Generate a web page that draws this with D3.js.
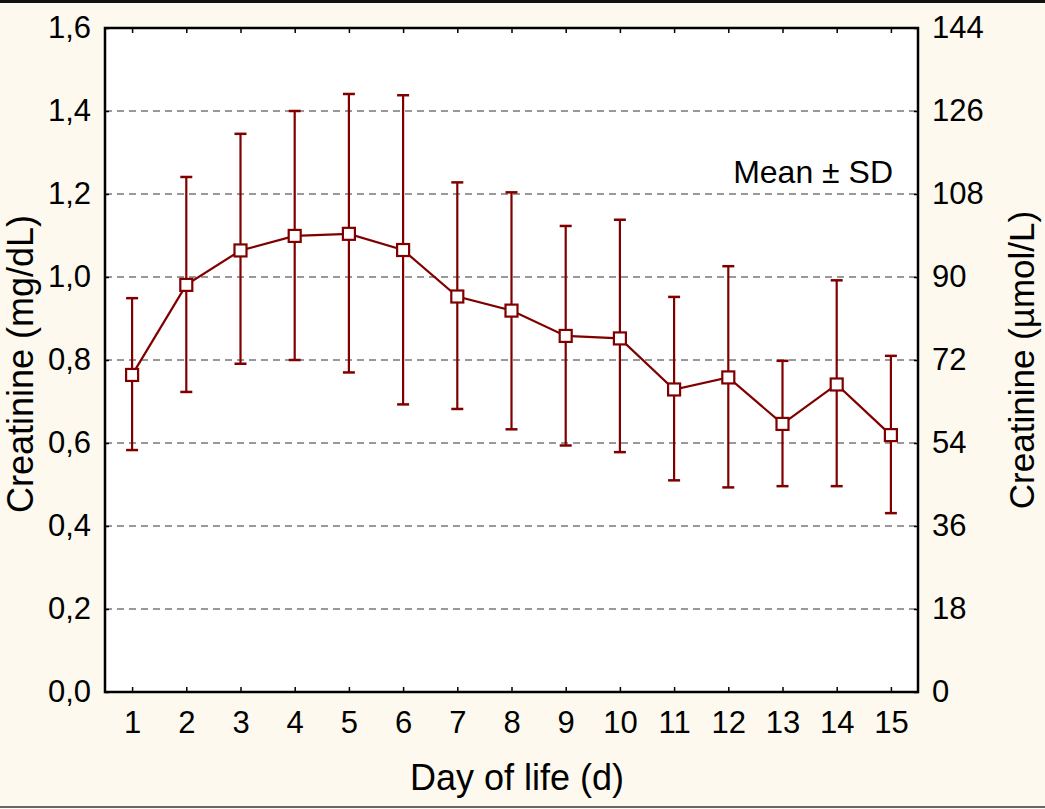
<!DOCTYPE html>
<html>
<head>
<meta charset="utf-8">
<script src="https://cdn.jsdelivr.net/npm/d3@7"></script>
<style>
  body { margin: 0; background: #fdf9ee; }
  svg { display: block; font-family: "Liberation Sans", Arial, sans-serif; }
</style>
</head>
<body>
<div class="chart"></div>
<script>
// data (mg/dL)
var days   = [1, 2, 3, 4, 5, 6, 7, 8, 9, 10, 11, 12, 13, 14, 15];
var means  = [0.764, 0.981, 1.064, 1.099, 1.104, 1.065, 0.953, 0.919, 0.858, 0.852, 0.729, 0.758, 0.646, 0.741, 0.619];
var upper  = [0.949, 1.241, 1.345, 1.400, 1.441, 1.438, 1.228, 1.204, 1.123, 1.138, 0.952, 1.026, 0.798, 0.992, 0.810];
var lower  = [0.583, 0.723, 0.791, 0.800, 0.770, 0.693, 0.682, 0.633, 0.594, 0.578, 0.510, 0.493, 0.496, 0.496, 0.431];
var leftTicks  = [0, 0.2, 0.4, 0.6, 0.8, 1.0, 1.2, 1.4, 1.6];
var rightTicks = [0, 18, 36, 54, 72, 90, 108, 126, 144];

var svgWidth = 1045, svgHeight = 809;
var margin = { top: 28, right: 127, bottom: 117, left: 105 };
var width = svgWidth - margin.left - margin.right;
var height = svgHeight - margin.top - margin.bottom;
var red = "#800000";

var svg = d3.select(".chart").append("svg")
  .attr("width", svgWidth)
  .attr("height", svgHeight);

// outer border lines
svg.append("line").attr("x1", 0).attr("x2", svgWidth).attr("y1", 1.5).attr("y2", 1.5)
  .attr("stroke", "#111").attr("stroke-width", 3);
svg.append("line").attr("x1", 0).attr("x2", svgWidth).attr("y1", 807).attr("y2", 807)
  .attr("stroke", "#666").attr("stroke-width", 2);

var g = svg.append("g").attr("transform", `translate(${margin.left}, ${margin.top})`);

var x = d3.scaleLinear().domain([0.5, 15.5]).range([0, width]);
var y = d3.scaleLinear().domain([0, 1.6]).range([height, 0]);
var y2 = d3.scaleLinear().domain([0, 144]).range([height, 0]);

g.append("rect").attr("width", width).attr("height", height).attr("fill", "white");

// dashed gridlines
g.append("g").selectAll("line")
  .data(leftTicks.filter(d => d > 0 && d < 1.6))
  .enter().append("line")
  .attr("x1", 0).attr("x2", width)
  .attr("y1", d => y(d)).attr("y2", d => y(d))
  .attr("stroke", "#333").attr("stroke-width", 1)
  .attr("stroke-dasharray", "7,5");

// axes
var fmt = d => d3.format(".1f")(d).replace(".", ",");

var bottomAxis = g.append("g").attr("transform", `translate(0, ${height})`)
  .call(d3.axisBottom(x).tickValues(days).tickSize(-5).tickPadding(19));
var topAxis = g.append("g")
  .call(d3.axisTop(x).tickValues(days).tickSize(-5).tickFormat(""));
var leftAxis = g.append("g")
  .call(d3.axisLeft(y).tickValues(leftTicks).tickFormat(fmt).tickSize(-4).tickPadding(14));
var rightAxis = g.append("g").attr("transform", `translate(${width}, 0)`)
  .call(d3.axisRight(y2).tickValues(rightTicks).tickSize(-4).tickPadding(14));

[bottomAxis, topAxis, leftAxis, rightAxis].forEach(a => {
  a.select(".domain").remove();
  a.selectAll(".tick line").attr("stroke", "#000").attr("stroke-width", 1.5);
  a.selectAll("text").attr("font-size", "31px").attr("fill", "#000")
    .attr("font-family", "Liberation Sans, Arial, sans-serif");
});

// frame
g.append("rect").attr("width", width).attr("height", height)
  .attr("fill", "none").attr("stroke", "#000").attr("stroke-width", 2.5);

// error bars
var pts = days.map((d, i) => ({ day: d, mean: means[i], hi: upper[i], lo: lower[i] }));
var bars = g.append("g");
bars.selectAll(".stem").data(pts).enter().append("line")
  .attr("x1", d => x(d.day)).attr("x2", d => x(d.day))
  .attr("y1", d => y(d.hi)).attr("y2", d => y(d.lo))
  .attr("stroke", red).attr("stroke-width", 2.2);
bars.selectAll(".capHi").data(pts).enter().append("line")
  .attr("x1", d => x(d.day) - 6).attr("x2", d => x(d.day) + 6)
  .attr("y1", d => y(d.hi)).attr("y2", d => y(d.hi))
  .attr("stroke", red).attr("stroke-width", 2.5);
bars.selectAll(".capLo").data(pts).enter().append("line")
  .attr("x1", d => x(d.day) - 6).attr("x2", d => x(d.day) + 6)
  .attr("y1", d => y(d.lo)).attr("y2", d => y(d.lo))
  .attr("stroke", red).attr("stroke-width", 2.5);

// mean line
var line = d3.line().x(d => x(d.day)).y(d => y(d.mean));
g.append("path").datum(pts)
  .attr("fill", "none").attr("stroke", red).attr("stroke-width", 2.2)
  .attr("d", line);

// square markers
g.append("g").selectAll("rect").data(pts).enter().append("rect")
  .attr("x", d => x(d.day) - 6).attr("y", d => y(d.mean) - 6)
  .attr("width", 12).attr("height", 12)
  .attr("fill", "white").attr("stroke", red).attr("stroke-width", 2.2);

// legend text
g.append("text")
  .attr("x", width - 25).attr("y", 155)
  .attr("text-anchor", "end").attr("font-size", "32px")
  .text("Mean \u00b1 SD");

// axis titles
svg.append("text")
  .attr("x", 517).attr("y", 790)
  .attr("text-anchor", "middle").attr("font-size", "36px")
  .text("Day of life (d)");

svg.append("text")
  .attr("transform", "rotate(-90)")
  .attr("x", -364).attr("y", 33)
  .attr("text-anchor", "middle").attr("font-size", "36px")
  .text("Creatinine (mg/dL)");

svg.append("text")
  .attr("transform", "rotate(-90)")
  .attr("x", -360).attr("y", 1034)
  .attr("text-anchor", "middle").attr("font-size", "35px")
  .text("Creatinine (\u00b5mol/L)");
</script>
</body>
</html>
